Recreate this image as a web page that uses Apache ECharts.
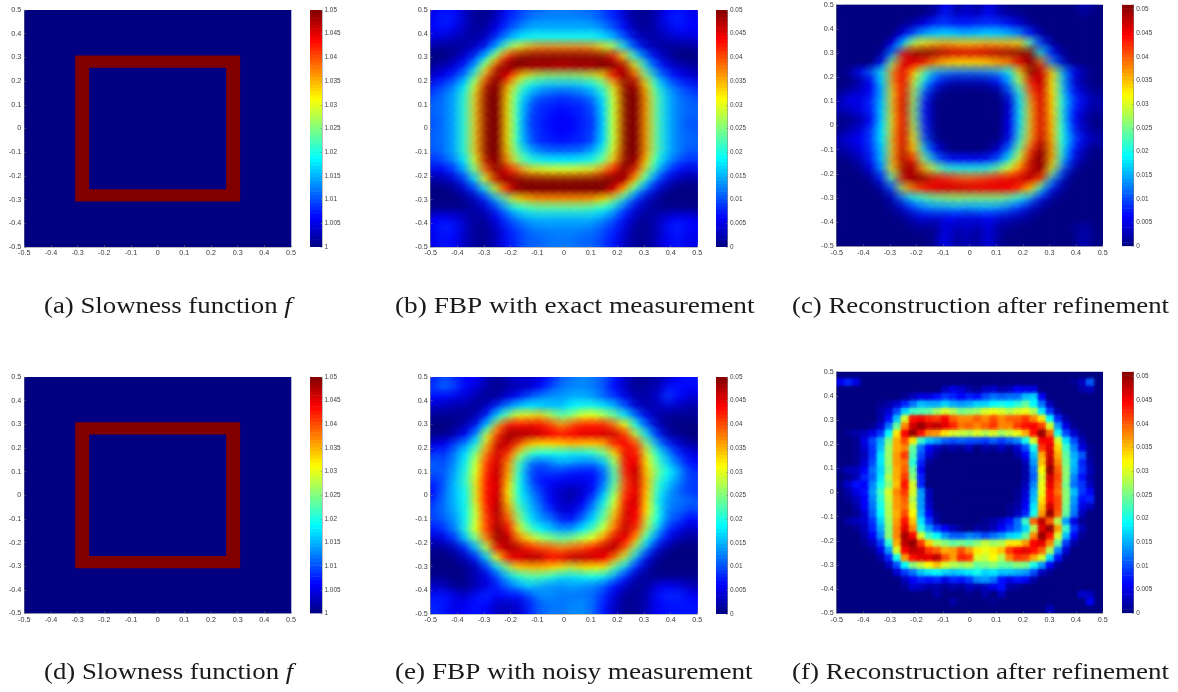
<!DOCTYPE html>
<html><head><meta charset="utf-8">
<style>html,body{margin:0;padding:0;background:#fff}#c{width:1178px;height:692px}</style>
<script src="https://cdn.jsdelivr.net/npm/echarts@6/dist/echarts.min.js"></script>
</head><body><div id="c"></div>
<script>
const jet=['#000080','#0000ff','#0080ff','#00ffff','#80ff80','#ffff00','#ff8000','#ff0000','#800000'];
const captions=['(a) Slowness function {i|f}','(b) FBP with exact measurement','(c) Reconstruction after refinement','(d) Slowness function {i|f}','(e) FBP with noisy measurement','(f) Reconstruction after refinement'];
// slowness phantom: [x0,x1,y0,y1,value]
const slownessBands=[[-0.5,0.5,-0.5,0.5,1],[-0.308,0.308,0.258,0.307,1.05],[-0.308,0.308,-0.307,-0.258,1.05],[-0.308,-0.258,-0.258,0.258,1.05],[0.258,0.308,-0.258,0.258,1.05]];
// values in units of 0.001; rows top to bottom, columns left to right
const fbpExact=[
[5,7,6,3,1,1,3,7,9,11,11,12,12,12,11,11,9,7,3,1,1,3,6,7,5],
[6,8,7,3,1,1,4,8,10,12,13,13,13,13,13,12,10,8,4,1,1,3,7,8,6],
[6,7,5,3,1,2,6,10,13,15,15,15,15,15,15,15,13,10,6,2,1,3,5,7,6],
[4,4,3,2,2,4,10,15,18,20,20,20,20,20,20,20,18,15,10,4,2,2,3,4,4],
[1,1,1,2,4,9,17,27,33,37,38,38,38,38,38,37,33,27,17,9,4,2,1,1,1],
[0,0,2,5,10,19,32,44,50,50,50,50,50,50,50,50,50,44,32,19,10,5,2,0,0],
[2,3,5,9,17,31,47,50,50,48,48,48,47,48,48,48,50,50,47,31,17,9,5,3,2],
[4,6,9,14,25,39,50,44,33,28,26,25,25,25,26,28,33,44,50,39,25,14,9,6,4],
[8,10,13,19,32,48,50,34,24,18,16,15,15,15,16,18,24,34,50,48,32,19,13,10,8],
[10,12,15,22,35,50,50,32,20,14,11,10,9,10,11,14,20,32,50,50,35,22,15,12,10],
[11,12,15,22,35,50,50,31,18,11,8,8,7,8,8,11,18,31,50,50,35,22,15,12,11],
[11,12,15,22,35,50,50,31,18,10,8,7,6,7,8,10,18,31,50,50,35,22,15,12,11],
[10,12,15,22,35,50,50,31,18,9,8,6,6,6,8,9,18,31,50,50,35,22,15,12,10],
[11,12,15,22,35,50,50,31,18,10,8,7,6,7,8,10,18,31,50,50,35,22,15,12,11],
[11,12,15,22,35,50,50,31,18,11,8,8,7,8,8,11,18,31,50,50,35,22,15,12,11],
[10,12,15,22,35,50,50,33,22,16,13,12,12,12,13,16,22,33,50,50,35,22,15,12,10],
[8,10,13,19,32,48,50,36,26,21,20,19,19,19,20,21,26,36,50,48,32,19,13,10,8],
[4,6,9,15,26,40,50,45,39,34,33,32,32,32,33,34,39,45,50,40,26,15,9,6,4],
[1,2,4,9,18,32,47,50,50,50,50,50,50,50,50,50,50,50,47,32,18,9,4,2,1],
[0,0,1,4,9,18,31,43,50,50,50,50,50,50,50,50,50,43,31,18,9,4,1,0,0],
[0,0,0,1,3,8,16,25,32,35,36,36,36,36,36,35,32,25,16,8,3,1,0,0,0],
[1,1,1,1,2,4,9,15,19,21,22,22,22,22,22,21,19,15,9,4,2,1,1,1,1],
[6,6,5,3,1,2,6,10,13,15,15,15,15,15,15,15,13,10,6,2,1,3,5,6,6],
[6,8,7,3,1,1,4,8,10,12,13,13,13,13,13,12,10,8,4,1,1,3,7,8,6],
[5,7,6,3,1,1,3,7,9,11,11,12,12,12,11,11,9,7,3,1,1,3,6,7,5]];
const reconExact=[
[0,0,0,0,0,0,0,0,0,1,6,1,3,1,5,1,0,0,0,0,0,0,0,3,0],
[0,0,0,0,0,0,0,0,1,3,8,3,5,3,7,3,2,1,0,0,0,0,0,1,0],
[0,0,0,0,0,0,1,3,6,9,9,8,8,9,9,9,7,4,1,0,0,0,0,0,0],
[0,0,0,0,0,0,6,12,16,17,18,17,16,17,18,17,16,13,7,1,0,0,0,0,0],
[0,0,0,0,0,6,19,30,34,36,37,36,35,36,37,36,36,34,22,8,1,0,0,0,0],
[0,0,0,0,2,14,45,50,51,50,48,47,47,47,48,49,50,51,50,20,6,1,0,0,0],
[0,0,0,0,8,28,46,46,42,37,34,33,33,33,34,36,38,46,51,40,14,3,0,0,0],
[0,2,7,12,20,39,46,33,22,14,12,11,11,11,12,14,19,34,51,47,33,15,6,2,0],
[0,0,2,6,18,38,46,28,16,8,3,2,2,2,3,7,15,28,45,48,31,15,4,1,0],
[1,3,4,7,16,35,46,26,10,2,0,0,0,0,0,1,10,22,41,47,32,16,7,3,1],
[3,6,5,9,17,36,47,26,7,0,0,0,0,0,0,0,5,20,38,47,33,18,9,5,2],
[2,3,5,8,18,36,47,25,6,0,0,0,0,0,0,0,5,20,37,47,33,17,7,3,1],
[0,1,2,7,18,35,46,26,7,0,0,0,0,0,0,0,6,20,37,47,34,18,6,2,0],
[1,3,5,10,19,36,47,28,8,0,0,0,0,0,0,0,6,21,37,47,34,19,8,3,1],
[3,5,6,10,19,37,47,30,10,1,0,0,0,0,0,1,8,23,38,48,35,19,10,5,2],
[1,3,5,9,17,36,48,34,16,6,1,0,0,0,1,5,14,27,43,51,36,18,7,2,0],
[0,1,3,8,17,37,49,42,25,13,8,7,7,7,8,12,21,34,48,51,35,16,5,1,0],
[0,0,1,5,14,34,50,49,36,27,22,21,21,21,22,26,33,40,48,50,29,10,1,0,0],
[0,0,0,1,8,24,47,50,50,46,44,42,41,42,43,45,46,47,48,40,15,3,0,0,0],
[0,0,0,0,2,10,29,40,43,46,47,47,47,46,46,46,45,41,33,18,5,1,0,0,0],
[0,0,0,0,0,3,12,19,22,24,25,26,25,25,25,25,23,20,13,5,1,0,0,0,0],
[0,0,0,0,0,1,4,9,12,13,13,14,13,14,14,13,11,8,3,1,0,0,0,0,0],
[0,0,0,0,0,0,1,3,5,4,5,6,4,5,6,4,3,2,1,0,0,0,0,0,0],
[0,0,0,0,0,0,0,1,1,1,5,2,4,2,5,1,1,0,0,0,0,0,1,2,0],
[0,0,0,0,0,0,0,0,0,1,6,1,3,1,5,1,0,0,0,0,0,0,0,3,0]];
const fbpNoisy=[
[8,10,8,6,6,2,1,3,4,4,5,8,11,12,13,12,10,7,3,1,1,2,4,6,7],
[9,11,9,6,4,2,1,2,3,4,7,10,12,13,13,12,10,6,3,1,2,3,7,7,6],
[6,6,5,4,2,1,2,5,8,11,13,14,14,15,15,14,11,9,5,2,2,4,9,6,4],
[3,3,2,2,1,4,9,14,17,18,17,16,16,19,20,20,18,15,10,4,2,3,4,3,2],
[1,1,1,1,3,9,19,26,32,33,34,28,24,27,31,31,28,24,18,11,5,2,1,1,1],
[0,0,1,3,8,18,36,44,44,45,44,41,37,41,43,43,43,38,31,19,10,3,1,0,0],
[1,1,3,7,15,30,42,49,48,47,46,44,43,44,45,45,46,46,41,28,17,8,2,1,0],
[5,6,10,14,21,35,47,46,39,33,32,32,33,34,33,33,35,42,44,40,25,14,8,4,2],
[9,9,13,18,27,39,46,40,28,21,19,19,19,18,18,20,24,33,45,42,29,20,13,8,5],
[11,10,14,20,30,42,46,36,21,12,10,12,14,13,12,12,16,27,44,45,31,22,16,11,7],
[10,11,15,21,31,43,47,35,20,10,8,9,8,7,7,7,12,24,43,47,33,24,19,14,9],
[8,11,16,22,33,44,46,33,19,11,7,6,5,5,5,7,13,24,41,46,34,21,16,12,9],
[7,12,16,20,33,44,46,31,19,13,9,5,3,2,4,8,16,27,42,45,33,20,14,11,9],
[9,12,16,20,33,44,47,33,20,15,10,6,3,3,6,12,20,30,44,46,32,18,13,12,11],
[10,12,15,20,30,43,48,36,23,16,12,8,4,5,9,15,23,34,46,44,31,20,12,11,9],
[9,11,14,20,30,42,47,39,26,18,14,12,8,8,13,18,26,37,46,43,28,19,11,9,6],
[7,9,13,21,31,42,49,43,30,23,19,16,14,15,19,24,30,40,47,40,26,15,8,5,3],
[3,5,9,16,25,38,49,47,38,33,28,26,24,26,29,32,39,46,44,34,19,10,5,2,1],
[1,1,3,8,16,28,44,48,47,43,41,40,38,40,41,44,47,47,37,23,12,4,1,0,0],
[0,0,1,3,8,17,31,43,45,48,47,43,45,47,47,46,44,36,26,14,5,1,0,0,0],
[0,0,0,1,3,9,17,26,33,34,34,33,30,28,32,31,30,22,15,7,2,0,0,0,0],
[1,1,0,1,3,5,10,16,20,22,22,20,17,17,18,19,17,13,7,2,1,1,1,1,1],
[4,3,1,1,3,5,8,11,14,16,14,13,13,14,13,12,10,6,3,1,2,5,6,5,3],
[7,7,5,4,7,8,6,7,7,10,13,13,12,12,12,11,8,4,1,1,3,7,8,8,6],
[8,7,5,6,7,6,3,3,4,8,11,12,12,13,13,11,7,3,1,1,3,6,7,7,7]];
const reconNoisy=[
[0,0,0,0,0,0,0,0,0,0,0,0,0,0,0,0,0,0,0,0,0,0,0,0,0,0,0,0,0,0,0,0,0],
[6,8,5,0,0,0,0,0,0,0,0,0,0,0,0,0,0,0,0,0,0,0,0,0,0,0,0,0,0,1,3,11,0],
[0,0,0,0,0,0,0,0,0,0,0,0,0,3,5,4,2,1,3,4,2,3,6,5,5,0,0,0,0,0,2,3,0],
[0,0,0,0,0,0,0,0,1,3,5,5,7,9,8,6,8,7,10,12,11,12,12,16,17,6,0,0,0,0,0,0,0],
[0,0,0,0,0,1,2,4,8,12,16,15,15,17,15,14,15,17,17,19,20,19,21,24,19,12,3,0,0,0,0,0,0],
[0,0,0,0,0,2,4,10,17,22,23,24,27,30,28,25,26,27,30,31,30,28,30,31,28,18,9,2,0,0,0,0,0],
[0,0,0,0,0,2,7,16,30,44,45,43,42,45,40,38,38,40,38,41,38,40,40,42,38,33,19,8,2,0,0,0,0],
[0,0,0,0,1,4,12,24,38,47,50,47,48,46,43,39,40,38,40,42,38,38,42,44,45,42,30,14,5,1,0,0,0],
[0,1,2,3,5,9,19,33,45,50,44,38,37,33,30,29,28,30,28,30,27,29,31,36,44,50,40,20,10,4,1,0,0],
[0,0,1,5,10,15,25,36,41,33,22,16,14,11,10,11,10,10,9,11,9,11,13,20,30,45,45,30,18,10,3,0,0],
[0,0,1,4,9,16,27,36,38,24,12,6,3,1,2,1,3,0,2,1,3,1,4,10,20,42,46,34,22,13,5,1,0],
[0,0,1,3,9,18,27,37,42,23,10,4,1,0,0,0,0,0,0,0,0,0,2,6,16,36,47,36,24,15,11,1,0],
[0,0,1,4,10,18,27,37,39,21,8,1,0,0,0,0,0,0,0,0,0,0,0,3,14,35,48,38,25,16,8,2,0],
[1,3,3,6,12,17,26,36,40,24,6,0,0,0,0,0,0,0,0,0,0,0,0,2,12,32,50,40,26,15,9,3,0],
[0,1,3,8,11,18,28,36,42,26,8,0,0,0,0,0,0,0,0,0,0,0,0,2,11,30,47,41,26,13,7,2,0],
[1,4,7,6,13,20,26,35,44,30,8,0,0,0,0,0,0,0,0,0,0,0,0,3,13,31,46,40,25,12,9,3,0],
[0,2,5,7,14,22,30,38,42,30,14,3,0,0,0,0,0,0,0,0,0,0,1,4,15,31,44,39,26,16,9,6,0],
[0,1,3,6,13,21,29,37,40,28,14,3,0,0,0,0,0,0,0,0,0,0,1,5,16,33,44,41,26,14,7,8,0],
[0,0,2,6,12,20,28,37,39,30,14,4,0,0,0,0,0,0,0,0,0,1,2,6,18,35,47,41,25,13,5,3,0],
[0,0,1,4,11,19,28,36,41,32,15,6,1,0,0,0,0,0,0,0,0,1,3,8,20,37,50,40,24,12,3,0,0],
[0,2,3,4,9,17,27,37,44,35,18,9,2,0,0,0,0,0,1,2,4,7,12,22,40,48,40,28,14,5,1,0,0],
[0,0,1,3,8,15,26,38,46,38,21,14,9,6,3,1,0,2,1,3,6,9,12,17,28,46,50,37,22,9,3,0,0],
[0,0,0,2,6,13,26,38,49,45,30,22,19,14,11,11,13,12,10,12,14,17,18,24,38,50,44,30,16,6,1,0,0],
[0,0,0,1,3,9,21,36,48,50,42,34,28,26,24,25,24,26,29,27,28,33,33,37,45,46,38,24,9,2,0,0,0],
[0,0,0,0,1,5,14,30,45,48,47,42,40,36,37,41,37,33,31,33,35,42,45,46,44,40,28,13,4,0,0,0,0],
[0,0,0,0,0,2,8,20,37,44,46,46,48,41,37,43,42,30,29,32,28,38,42,41,36,30,17,7,1,0,0,0,0],
[0,0,0,0,0,0,3,10,19,26,29,32,35,30,28,27,28,24,25,26,24,24,26,25,20,14,6,1,0,0,0,0,0],
[0,0,0,0,0,0,0,4,9,12,16,18,19,17,16,17,18,20,17,18,16,16,15,14,10,3,1,0,0,0,0,0,0],
[0,0,0,0,0,0,0,0,3,6,8,7,8,5,8,7,9,13,14,12,7,5,7,6,2,0,0,0,0,0,0,0,0],
[0,0,0,0,0,0,0,0,1,4,3,2,2,1,2,1,3,2,3,5,7,2,1,0,0,0,0,0,0,0,0,0,0],
[0,0,0,0,0,0,0,0,0,0,0,0,2,0,0,0,1,0,2,0,3,0,0,0,0,0,0,0,0,0,4,3,0],
[0,0,0,0,0,0,0,0,0,0,0,0,0,0,2,0,0,0,0,1,0,0,0,0,0,0,0,0,0,0,0,6,0],
[0,0,0,0,0,0,0,0,0,0,0,0,0,0,0,0,0,0,0,0,0,0,0,0,0,0,3,0,0,0,0,0,0]];

const panels=[
 {bands:slownessBands,left:24.3,top:10,w:266.7,h:237,barLeft:310,barW:12,vmin:1,vmax:1.05,cmin:1,cmax:1.05,capX:44,capY:306.5,capS:1.116},
 {grid:fbpExact,left:430.7,top:10,w:266.6,h:237,barLeft:716,barW:11.5,vmin:0,vmax:50,cmin:0,cmax:0.05,capX:395,capY:306.5,capS:1.138,soft:1.55},
 {grid:reconExact,left:836.7,top:4.7,w:266,h:241.6,barLeft:1122.3,barW:11.4,vmin:0,vmax:51,cmin:0,cmax:0.051,capX:792,capY:306.5,capS:1.116,soft:1.5},
 {bands:slownessBands,left:24.3,top:377,w:266.7,h:236.5,barLeft:310,barW:12,vmin:1,vmax:1.05,cmin:1,cmax:1.05,capX:44,capY:672.5,capS:1.116},
 {grid:fbpNoisy,left:430.7,top:377,w:266.6,h:237,barLeft:716,barW:11.5,vmin:0,vmax:50,cmin:0,cmax:0.05,capX:395,capY:672.5,capS:1.132,soft:1.4},
 {grid:reconNoisy,left:836.7,top:371.7,w:266,h:241.6,barLeft:1122.3,barW:11.4,vmin:0,vmax:51,cmin:0,cmax:0.051,capX:792,capY:672.5,capS:1.125,soft:0.95}
];
function toCells(g){
  const n=g.length,out=[];
  g.forEach((row,j)=>{
    if(row.length!==n) throw new Error('row '+j+' length '+row.length);
    row.forEach((v,i)=>out.push([-0.5+i/n,-0.5+(i+1)/n,0.5-(j+1)/n,0.5-j/n,v]));
  });
  return out;
}
function colorLevels(p){ // colour-bar swatches of the 64-level colormap
  const out=[];
  for(let k=0;k<64;k++){
    out.push([0,1,p.cmin+(p.cmax-p.cmin)*k/64,p.cmin+(p.cmax-p.cmin)*(k+1)/64,p.vmin+(p.vmax-p.vmin)*(k+0.5)/64]);
  }
  return out;
}
const LBL='#3a3a3a',LINE='#7a7a7a',FF='"Liberation Sans",Arial,sans-serif',SERIF='"Liberation Serif",serif';
function rectItem(params,api){
  const a=api.coord([api.value(0),api.value(3)]),b=api.coord([api.value(1),api.value(2)]);
  return {type:'rect',shape:{x:a[0]-0.3,y:a[1]-0.3,width:b[0]-a[0]+0.6,height:b[1]-a[1]+0.6},style:{fill:api.visual('color')}};
}
function softItem(k){return function(params,api){
  const a=api.coord([api.value(0),api.value(3)]),b=api.coord([api.value(1),api.value(2)]);
  const c=api.visual('color'),r=(b[0]-a[0])*k;
  return {type:'circle',shape:{cx:(a[0]+b[0])/2,cy:(a[1]+b[1])/2,r:r},style:{fill:new echarts.graphic.RadialGradient(0.5,0.5,0.5,[
    {offset:0,color:echarts.color.modifyAlpha(c,0.85)},{offset:0.45,color:echarts.color.modifyAlpha(c,0.55)},{offset:1,color:echarts.color.modifyAlpha(c,0)}])}};
};}
const grids=[],xAxes=[],yAxes=[],series=[],vms=[],texts=[];
panels.forEach((p,idx)=>{
  const gi=grids.length,data=p.bands||toCells(p.grid);
  grids.push({left:p.left,top:p.top,width:p.w,height:p.h,show:false});
  const axisBase={min:-0.5,max:0.5,interval:0.1,type:'value',gridIndex:gi,z:10,splitLine:{show:false},
    axisLine:{show:true,onZero:false,lineStyle:{color:LINE,width:0.5}},axisTick:{show:true,inside:true,length:2,lineStyle:{color:LINE,width:0.5}},
    axisLabel:{fontSize:7.2,color:LBL,fontFamily:FF,margin:3,hideOverlap:false,showMinLabel:true,showMaxLabel:true}};
  xAxes.push(Object.assign({},axisBase,{position:'bottom'}));
  yAxes.push(Object.assign({},axisBase,{position:'left'}));
  const sIdx=[series.length];
  const base={type:'custom',clip:true,silent:true,animation:false,progressive:0,encode:{x:[0,1],y:[2,3]}};
  series.push(Object.assign({},base,{xAxisIndex:gi,yAxisIndex:gi,data:data,renderItem:rectItem,z:2}));
  if(p.soft){
    sIdx.push(series.length);
    series.push(Object.assign({},base,{xAxisIndex:gi,yAxisIndex:gi,data:data,renderItem:softItem(p.soft),z:3}));
  }
  const bi=grids.length;
  grids.push({left:p.barLeft,top:p.top,width:p.barW,height:p.h,show:false});
  xAxes.push({type:'value',gridIndex:bi,min:0,max:1,show:false});
  yAxes.push({type:'value',gridIndex:bi,position:'right',min:p.cmin,max:p.cmax,interval:0.005,z:20,splitLine:{show:false},
    axisLine:{show:true,onZero:false,lineStyle:{color:LINE,width:0.5}},axisTick:{show:true,inside:true,length:1.5,lineStyle:{color:LINE,width:0.5}},
    axisLabel:{fontSize:6.4,color:LBL,fontFamily:FF,margin:2.5,showMaxLabel:p.cmax===1.05||p.cmax===0.05,showMinLabel:true,hideOverlap:false}});
  sIdx.push(series.length);
  series.push(Object.assign({},base,{xAxisIndex:bi,yAxisIndex:bi,data:colorLevels(p),renderItem:rectItem,z:2}));
  vms.push({type:'continuous',show:false,seriesIndex:sIdx,dimension:4,min:p.vmin,max:p.vmax,inRange:{color:jet}});
  texts.push({type:'text',x:p.capX,y:p.capY,scaleX:p.capS,silent:true,
    style:{text:captions[idx],fontFamily:SERIF,fontSize:24,fill:'#1a1a1a',verticalAlign:'middle',align:'left',
      rich:{i:{fontFamily:SERIF,fontStyle:'italic',fontSize:24,fill:'#1a1a1a'}}}});
});
const chart=echarts.init(document.getElementById('c'),null,{renderer:'canvas'});
chart.setOption({animation:false,backgroundColor:'#fff',grid:grids,xAxis:xAxes,yAxis:yAxes,visualMap:vms,series:series,graphic:{elements:texts}});
</script></body></html>
